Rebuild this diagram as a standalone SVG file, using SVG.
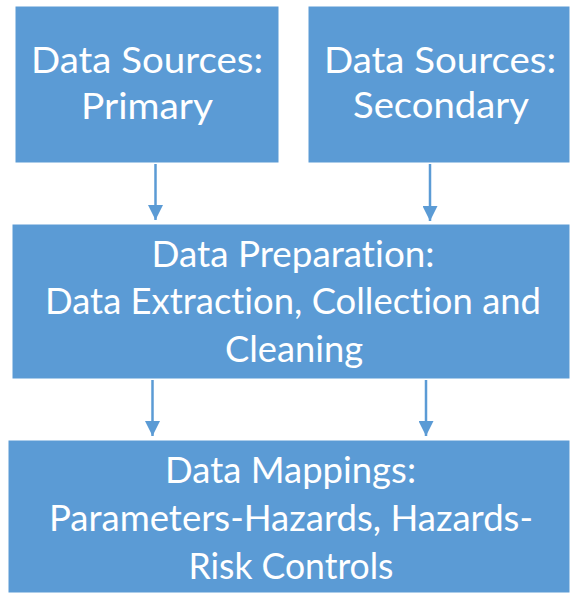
<svg xmlns="http://www.w3.org/2000/svg" width="570" height="593" viewBox="0 0 570 593">
  <style>
    .box { fill: #5B9BD5; stroke: #ffffff; stroke-width: 1; }
    .lbl { font-family: Lato, "Open Sans", "Liberation Sans", sans-serif; font-size: 37px; fill: #ffffff; text-anchor: middle; font-variant-ligatures: none; font-feature-settings: "liga" 0, "clig" 0; }
    .conn { stroke: #5B9BD5; stroke-width: 2.5; fill: none; marker-end: url(#arrow); }
  </style>
  <defs>
    <marker id="arrow" markerUnits="userSpaceOnUse" markerWidth="15" markerHeight="15" refX="15" refY="7.5" orient="auto" viewBox="0 0 15 15">
      <path d="M0,0 L15,7.5 L0,15 z" fill="#5B9BD5"/>
    </marker>
  </defs>
  <rect width="570" height="593" fill="#ffffff"/>
  <g id="node-primary">
    <rect class="box" x="15" y="6" width="264" height="157"/>
    <text class="lbl" x="147" y="73" textLength="232" lengthAdjust="spacingAndGlyphs">Data Sources:</text>
    <text class="lbl" x="147" y="119" textLength="132" lengthAdjust="spacingAndGlyphs">Primary</text>
  </g>
  <g id="node-secondary">
    <rect class="box" x="308" y="6" width="262" height="157"/>
    <text class="lbl" x="440" y="73" textLength="232" lengthAdjust="spacingAndGlyphs">Data Sources:</text>
    <text class="lbl" x="441" y="118" textLength="176" lengthAdjust="spacingAndGlyphs">Secondary</text>
  </g>
  <g id="node-preparation">
    <rect class="box" x="12" y="224" width="558" height="155"/>
    <text class="lbl" x="293" y="267" textLength="283" lengthAdjust="spacingAndGlyphs">Data Preparation:</text>
    <text class="lbl" x="293" y="314" textLength="496" lengthAdjust="spacingAndGlyphs">Data Extraction, Collection and</text>
    <text class="lbl" x="294" y="362" textLength="138" lengthAdjust="spacingAndGlyphs">Cleaning</text>
  </g>
  <g id="node-mappings">
    <rect class="box" x="8" y="440" width="562" height="153"/>
    <text class="lbl" x="290.5" y="483" textLength="251" lengthAdjust="spacingAndGlyphs">Data Mappings:</text>
    <text class="lbl" x="291" y="531" textLength="484" lengthAdjust="spacingAndGlyphs">Parameters-Hazards, Hazards-</text>
    <text class="lbl" x="291" y="579" textLength="205" lengthAdjust="spacingAndGlyphs">Risk Controls</text>
  </g>
  <g id="connectors">
    <line class="conn" x1="155.5" y1="164" x2="155.5" y2="220"/>
    <line class="conn" x1="430" y1="164" x2="430" y2="221"/>
    <line class="conn" x1="152.5" y1="380" x2="152.5" y2="436"/>
    <line class="conn" x1="426" y1="380" x2="426" y2="436"/>
  </g>
</svg>
